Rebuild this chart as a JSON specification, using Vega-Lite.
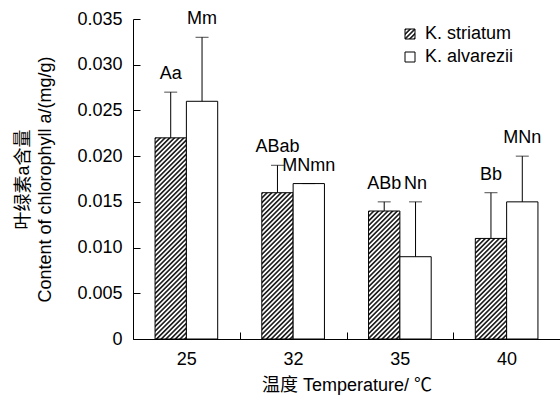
{
  "$schema": "https://vega.github.io/schema/vega-lite/v6.json",
  "width": 427,
  "height": 320,
  "autosize": "none",
  "padding": {"left": 133, "top": 19, "right": 0, "bottom": 58},
  "params": [
    {"name": "hatchStops", "value": [
      {"offset":0,"color":"#222"},{"offset":0.005,"color":"#222"},{"offset":0.01,"color":"#fff"},{"offset":0.015,"color":"#fff"},
      {"offset":0.02,"color":"#222"},{"offset":0.025,"color":"#222"},{"offset":0.03,"color":"#fff"},{"offset":0.035,"color":"#fff"},
      {"offset":0.04,"color":"#222"},{"offset":0.045,"color":"#222"},{"offset":0.05,"color":"#fff"},{"offset":0.055,"color":"#fff"},
      {"offset":0.06,"color":"#222"},{"offset":0.065,"color":"#222"},{"offset":0.07,"color":"#fff"},{"offset":0.075,"color":"#fff"},
      {"offset":0.08,"color":"#222"},{"offset":0.085,"color":"#222"},{"offset":0.09,"color":"#fff"},{"offset":0.095,"color":"#fff"},
      {"offset":0.1,"color":"#222"},{"offset":0.105,"color":"#222"},{"offset":0.11,"color":"#fff"},{"offset":0.115,"color":"#fff"},
      {"offset":0.12,"color":"#222"},{"offset":0.125,"color":"#222"},{"offset":0.13,"color":"#fff"},{"offset":0.135,"color":"#fff"},
      {"offset":0.14,"color":"#222"},{"offset":0.145,"color":"#222"},{"offset":0.15,"color":"#fff"},{"offset":0.155,"color":"#fff"},
      {"offset":0.16,"color":"#222"},{"offset":0.165,"color":"#222"},{"offset":0.17,"color":"#fff"},{"offset":0.175,"color":"#fff"},
      {"offset":0.18,"color":"#222"},{"offset":0.185,"color":"#222"},{"offset":0.19,"color":"#fff"},{"offset":0.195,"color":"#fff"},
      {"offset":0.2,"color":"#222"},{"offset":0.205,"color":"#222"},{"offset":0.21,"color":"#fff"},{"offset":0.215,"color":"#fff"},
      {"offset":0.22,"color":"#222"},{"offset":0.225,"color":"#222"},{"offset":0.23,"color":"#fff"},{"offset":0.235,"color":"#fff"},
      {"offset":0.24,"color":"#222"},{"offset":0.245,"color":"#222"},{"offset":0.25,"color":"#fff"},{"offset":0.255,"color":"#fff"},
      {"offset":0.26,"color":"#222"},{"offset":0.265,"color":"#222"},{"offset":0.27,"color":"#fff"},{"offset":0.275,"color":"#fff"},
      {"offset":0.28,"color":"#222"},{"offset":0.285,"color":"#222"},{"offset":0.29,"color":"#fff"},{"offset":0.295,"color":"#fff"},
      {"offset":0.3,"color":"#222"},{"offset":0.305,"color":"#222"},{"offset":0.31,"color":"#fff"},{"offset":0.315,"color":"#fff"},
      {"offset":0.32,"color":"#222"},{"offset":0.325,"color":"#222"},{"offset":0.33,"color":"#fff"},{"offset":0.335,"color":"#fff"},
      {"offset":0.34,"color":"#222"},{"offset":0.345,"color":"#222"},{"offset":0.35,"color":"#fff"},{"offset":0.355,"color":"#fff"},
      {"offset":0.36,"color":"#222"},{"offset":0.365,"color":"#222"},{"offset":0.37,"color":"#fff"},{"offset":0.375,"color":"#fff"},
      {"offset":0.38,"color":"#222"},{"offset":0.385,"color":"#222"},{"offset":0.39,"color":"#fff"},{"offset":0.395,"color":"#fff"},
      {"offset":0.4,"color":"#222"},{"offset":0.405,"color":"#222"},{"offset":0.41,"color":"#fff"},{"offset":0.415,"color":"#fff"},
      {"offset":0.42,"color":"#222"},{"offset":0.425,"color":"#222"},{"offset":0.43,"color":"#fff"},{"offset":0.435,"color":"#fff"},
      {"offset":0.44,"color":"#222"},{"offset":0.445,"color":"#222"},{"offset":0.45,"color":"#fff"},{"offset":0.455,"color":"#fff"},
      {"offset":0.46,"color":"#222"},{"offset":0.465,"color":"#222"},{"offset":0.47,"color":"#fff"},{"offset":0.475,"color":"#fff"},
      {"offset":0.48,"color":"#222"},{"offset":0.485,"color":"#222"},{"offset":0.49,"color":"#fff"},{"offset":0.495,"color":"#fff"},
      {"offset":0.5,"color":"#222"},{"offset":0.505,"color":"#222"},{"offset":0.51,"color":"#fff"},{"offset":0.515,"color":"#fff"},
      {"offset":0.52,"color":"#222"},{"offset":0.525,"color":"#222"},{"offset":0.53,"color":"#fff"},{"offset":0.535,"color":"#fff"},
      {"offset":0.54,"color":"#222"},{"offset":0.545,"color":"#222"},{"offset":0.55,"color":"#fff"},{"offset":0.555,"color":"#fff"},
      {"offset":0.56,"color":"#222"},{"offset":0.565,"color":"#222"},{"offset":0.57,"color":"#fff"},{"offset":0.575,"color":"#fff"},
      {"offset":0.58,"color":"#222"},{"offset":0.585,"color":"#222"},{"offset":0.59,"color":"#fff"},{"offset":0.595,"color":"#fff"},
      {"offset":0.6,"color":"#222"},{"offset":0.605,"color":"#222"},{"offset":0.61,"color":"#fff"},{"offset":0.615,"color":"#fff"},
      {"offset":0.62,"color":"#222"},{"offset":0.625,"color":"#222"},{"offset":0.63,"color":"#fff"},{"offset":0.635,"color":"#fff"},
      {"offset":0.64,"color":"#222"},{"offset":0.645,"color":"#222"},{"offset":0.65,"color":"#fff"},{"offset":0.655,"color":"#fff"},
      {"offset":0.66,"color":"#222"},{"offset":0.665,"color":"#222"},{"offset":0.67,"color":"#fff"},{"offset":0.675,"color":"#fff"},
      {"offset":0.68,"color":"#222"},{"offset":0.685,"color":"#222"},{"offset":0.69,"color":"#fff"},{"offset":0.695,"color":"#fff"},
      {"offset":0.7,"color":"#222"},{"offset":0.705,"color":"#222"},{"offset":0.71,"color":"#fff"},{"offset":0.715,"color":"#fff"},
      {"offset":0.72,"color":"#222"},{"offset":0.725,"color":"#222"},{"offset":0.73,"color":"#fff"},{"offset":0.735,"color":"#fff"},
      {"offset":0.74,"color":"#222"},{"offset":0.745,"color":"#222"},{"offset":0.75,"color":"#fff"},{"offset":0.755,"color":"#fff"},
      {"offset":0.76,"color":"#222"},{"offset":0.765,"color":"#222"},{"offset":0.77,"color":"#fff"},{"offset":0.775,"color":"#fff"},
      {"offset":0.78,"color":"#222"},{"offset":0.785,"color":"#222"},{"offset":0.79,"color":"#fff"},{"offset":0.795,"color":"#fff"},
      {"offset":0.8,"color":"#222"},{"offset":0.805,"color":"#222"},{"offset":0.81,"color":"#fff"},{"offset":0.815,"color":"#fff"},
      {"offset":0.82,"color":"#222"},{"offset":0.825,"color":"#222"},{"offset":0.83,"color":"#fff"},{"offset":0.835,"color":"#fff"},
      {"offset":0.84,"color":"#222"},{"offset":0.845,"color":"#222"},{"offset":0.85,"color":"#fff"},{"offset":0.855,"color":"#fff"},
      {"offset":0.86,"color":"#222"},{"offset":0.865,"color":"#222"},{"offset":0.87,"color":"#fff"},{"offset":0.875,"color":"#fff"},
      {"offset":0.88,"color":"#222"},{"offset":0.885,"color":"#222"},{"offset":0.89,"color":"#fff"},{"offset":0.895,"color":"#fff"},
      {"offset":0.9,"color":"#222"},{"offset":0.905,"color":"#222"},{"offset":0.91,"color":"#fff"},{"offset":0.915,"color":"#fff"},
      {"offset":0.92,"color":"#222"},{"offset":0.925,"color":"#222"},{"offset":0.93,"color":"#fff"},{"offset":0.935,"color":"#fff"},
      {"offset":0.94,"color":"#222"},{"offset":0.945,"color":"#222"},{"offset":0.95,"color":"#fff"},{"offset":0.955,"color":"#fff"},
      {"offset":0.96,"color":"#222"},{"offset":0.965,"color":"#222"},{"offset":0.97,"color":"#fff"},{"offset":0.975,"color":"#fff"},
      {"offset":0.98,"color":"#222"},{"offset":0.985,"color":"#222"},{"offset":0.99,"color":"#fff"},{"offset":0.995,"color":"#fff"},
      {"offset":1,"color":"#222"}
    ]}
  ],
  "data": {
    "values": [
      {"temp": "25", "series": "K. striatum", "mean": 0.022, "upper": 0.027, "label": "Aa"},
      {"temp": "25", "series": "K. alvarezii", "mean": 0.026, "upper": 0.033, "label": "Mm"},
      {"temp": "32", "series": "K. striatum", "mean": 0.016, "upper": 0.019, "label": "ABab"},
      {"temp": "32", "series": "K. alvarezii", "mean": 0.017, "upper": 0.017, "label": "MNmn"},
      {"temp": "35", "series": "K. striatum", "mean": 0.014, "upper": 0.015, "label": "ABb"},
      {"temp": "35", "series": "K. alvarezii", "mean": 0.009, "upper": 0.015, "label": "Nn"},
      {"temp": "40", "series": "K. striatum", "mean": 0.011, "upper": 0.016, "label": "Bb"},
      {"temp": "40", "series": "K. alvarezii", "mean": 0.015, "upper": 0.020, "label": "MNn"}
    ]
  },
  "encoding": {
    "x": {
      "field": "temp", "type": "ordinal", "sort": ["25", "32", "35", "40"],
      "scale": {"paddingInner": 0, "paddingOuter": 0},
      "axis": {
        "title": "温度 Temperature/ ℃",
        "labelAngle": 0, "tickBand": "extent", "tickSize": -7, "labelPadding": 18,
        "titlePadding": 8
      }
    },
    "xOffset": {
      "field": "series", "type": "nominal", "sort": ["K. striatum", "K. alvarezii"],
      "scale": {"paddingInner": 0, "paddingOuter": 0.704}
    }
  },
  "layer": [
    {
      "mark": {
        "type": "bar", "strokeWidth": 1,
        "fill": {"expr": "datum.series === 'K. striatum' ? {gradient: 'linear', x1: 0, y1: 0, x2: 235 * bandwidth('xOffset') / (pow(bandwidth('xOffset'), 2) + pow(scale('y', 0) - scale('y', datum.mean), 2)), y2: 235 * (scale('y', 0) - scale('y', datum.mean)) / (pow(bandwidth('xOffset'), 2) + pow(scale('y', 0) - scale('y', datum.mean), 2)), stops: hatchStops} : 'white'"}
      },
      "encoding": {
        "y": {
          "field": "mean", "type": "quantitative",
          "scale": {"domain": [0, 0.035], "nice": false},
          "axis": {
            "title": ["叶绿素a含量", "Content of chlorophyll a/(mg/g)"],
            "values": [0, 0.005, 0.01, 0.015, 0.02, 0.025, 0.03, 0.035],
            "labelExpr": "datum.value === 0 ? '0' : format(datum.value, '.3f')",
            "tickSize": -7, "labelPadding": 18, "titlePadding": 22, "titleLineHeight": 22, "grid": false
          }
        },
        "stroke": {
          "field": "series", "type": "nominal", "sort": ["K. striatum", "K. alvarezii"],
          "scale": {"range": ["black", "black"]},
          "legend": {
            "title": null, "orient": "none", "legendX": 268, "legendY": 6,
            "symbolType": "square", "symbolSize": 100, "symbolStrokeWidth": 1, "symbolStrokeColor": "black",
            "labelFontSize": 18, "labelColor": "black", "labelOffset": 6, "rowPadding": 5,
            "encoding": {"symbols": {"fill": {"value": {"expr": "datum.value === 'K. striatum' ? {gradient: 'linear', x1: 0, y1: 0, x2: 11.75, y2: 11.75, stops: hatchStops} : 'white'"}}}}
          }
        }
      }
    },
    {
      "mark": {"type": "rule", "color": "black", "strokeWidth": 1},
      "encoding": {
        "y": {"field": "mean", "type": "quantitative"},
        "y2": {"field": "upper"}
      }
    },
    {
      "mark": {"type": "tick", "color": "black", "thickness": 1, "size": 13, "orient": "horizontal"},
      "encoding": {
        "y": {"field": "upper", "type": "quantitative"}
      }
    },
    {
      "mark": {"type": "text", "fontSize": 18, "dy": -18, "baseline": "middle", "color": "black"},
      "encoding": {
        "y": {"field": "upper", "type": "quantitative"},
        "text": {"field": "label"}
      }
    }
  ],
  "config": {
    "font": "Liberation Sans, Noto Sans CJK SC, sans-serif",
    "view": {"stroke": null},
    "axis": {
      "domainColor": "black", "tickColor": "black", "labelColor": "black", "titleColor": "black",
      "labelFontSize": 18, "titleFontSize": 18, "titleFontWeight": "normal", "grid": false
    },
    "legend": {"labelFont": "Liberation Sans"}
  }
}
